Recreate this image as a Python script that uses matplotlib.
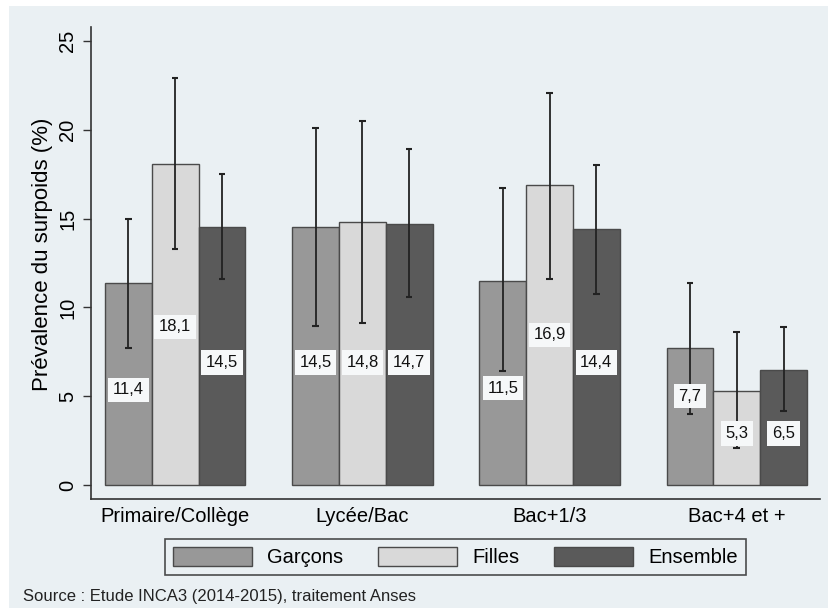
import matplotlib.pyplot as plt
from matplotlib.patches import Rectangle
import numpy as np

plt.rcParams['font.family'] = ['Liberation Sans', 'DejaVu Sans']

categories = ['Primaire/Collège', 'Lycée/Bac', 'Bac+1/3', 'Bac+4 et +']
series = ['Garçons', 'Filles', 'Ensemble']

garcons = [11.4, 14.5, 11.5, 7.7]
filles = [18.1, 14.8, 16.9, 5.3]
ensemble = [14.5, 14.7, 14.4, 6.5]

garcons_low = [7.7, 8.95, 6.4, 4.0]
garcons_high = [15.0, 20.1, 16.7, 11.4]
filles_low = [13.3, 9.1, 11.6, 2.1]
filles_high = [22.9, 20.5, 22.1, 8.6]
ensemble_low = [11.6, 10.6, 10.75, 4.15]
ensemble_high = [17.5, 18.9, 18.0, 8.9]

# where the value labels sit
garcons_lab_y = [5.35, 6.9, 5.45, 5.0]
filles_lab_y = [8.9, 6.9, 8.45, 2.9]
ensemble_lab_y = [6.9, 6.9, 6.9, 2.9]

bg = '#eaf0f3'
colors = ['#989898', '#d9d9d9', '#5a5a5a']

fig = plt.figure(figsize=(8.29, 6.08), dpi=100)
fig.patch.set_facecolor('white')
fig.patches.append(Rectangle((9/829, 0), 1, (608-6)/608, transform=fig.transFigure,
                             facecolor=bg, edgecolor='none', zorder=-10))

ax = fig.add_axes([91/829, (608-499)/608, (820-91)/829, (499-27)/608])
ax.set_facecolor(bg)

x = np.arange(len(categories)) * 4.0
vals = [garcons, filles, ensemble]
lows = [garcons_low, filles_low, ensemble_low]
highs = [garcons_high, filles_high, ensemble_high]
labys = [garcons_lab_y, filles_lab_y, ensemble_lab_y]

for i in range(3):
    xi = x + (i - 1)
    v = np.array(vals[i])
    ax.bar(xi, v, width=1.0, color=colors[i], edgecolor='#4a4a4a', linewidth=1.0,
           label=series[i], zorder=2)
    lo = np.array(lows[i])
    hi = np.array(highs[i])
    ax.vlines(xi, lo, hi, color='#222222', linewidth=1.3, zorder=3)
    ax.hlines(lo, xi - 0.07, xi + 0.07, color='#222222', linewidth=1.5, zorder=3)
    ax.hlines(hi, xi - 0.07, xi + 0.07, color='#222222', linewidth=1.5, zorder=3)
    for xx, vv, yy in zip(xi, v, labys[i]):
        ax.text(xx, yy, f'{vv:.1f}'.replace('.', ','), ha='center', va='center',
                fontsize=12, color='#111111', zorder=4,
                bbox=dict(boxstyle='square,pad=0.28', facecolor='#f6f8f9', edgecolor='none'))

ax.set_xlim(-1.8, 13.78)
ax.set_ylim(-0.79, 25.79)
ax.set_yticks([0, 5, 10, 15, 20, 25])
ax.set_yticklabels(['0', '5', '10', '15', '20', '25'], rotation=90, va='center', fontsize=14.5)
ax.set_xticks(x)
ax.set_xticklabels(categories, fontsize=14.5)
ax.tick_params(axis='x', length=0, pad=6)
ax.tick_params(axis='y', length=6, width=1, color='#333333', pad=4)
ax.set_ylabel('Prévalence du surpoids (%)', fontsize=16)
ax.yaxis.set_label_coords(-0.052, (499 - 254) / (499 - 27))
for s in ['top', 'right']:
    ax.spines[s].set_visible(False)
for s in ['left', 'bottom']:
    ax.spines[s].set_color('#333333')
    ax.spines[s].set_linewidth(1.2)

leg = fig.legend(loc='center', bbox_to_anchor=(455.5/829, (608-557)/608), ncol=3,
                 fontsize=14.5, handlelength=3.9, handleheight=1.05, handletextpad=0.75,
                 columnspacing=1.75, frameon=True, fancybox=False, borderpad=0.4)
leg.get_frame().set_edgecolor('#222222')
leg.get_frame().set_facecolor(bg)
leg.get_frame().set_linewidth(1.2)

fig.text(23/829, (608-596)/608, 'Source : Etude INCA3 (2014-2015), traitement Anses',
         fontsize=12, ha='left', va='center', color='#222222')

fig.savefig('out.png', dpi=100, facecolor=fig.get_facecolor())
